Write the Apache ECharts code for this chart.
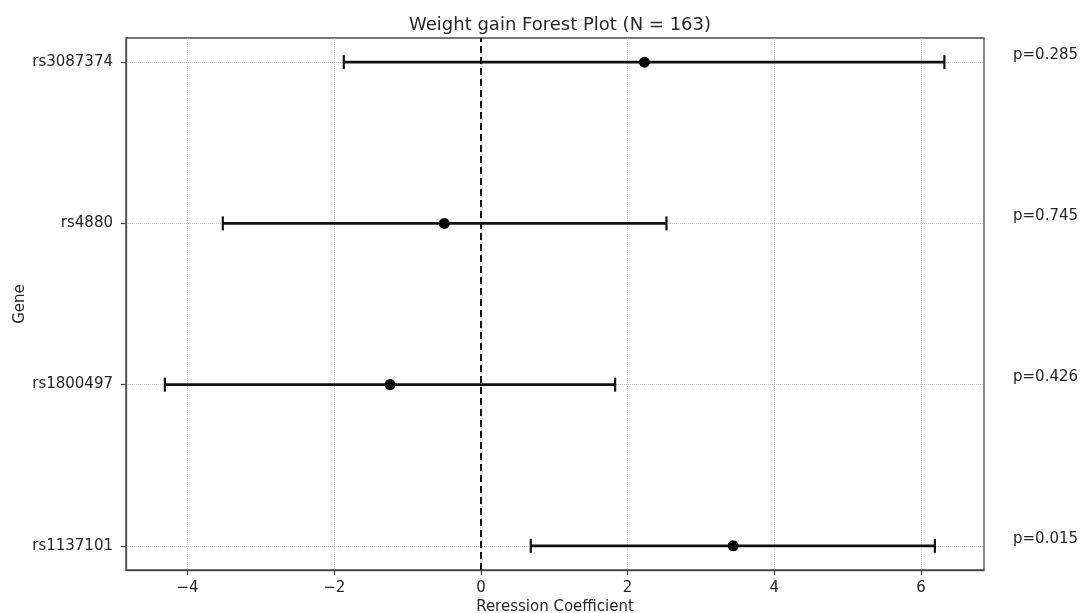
<!DOCTYPE html>
<html>
<head>
<meta charset="utf-8">
<script src="https://cdn.jsdelivr.net/npm/echarts@6/dist/echarts.min.js"></script>
<style>
  html, body { margin: 0; padding: 0; background: #fff; }
  #chart { width: 1081px; height: 613px; }
</style>
</head>
<body>
<div id="chart"></div>
<script>
// genes listed bottom -> top (y index 0..3)
const genes = ['rs1137101', 'rs1800497', 'rs4880', 'rs3087374'];
const coef = [3.44, -1.24, -0.50, 2.23];
const ciLow = [0.68, -4.31, -3.52, -1.87];
const ciHigh = [6.19, 1.83, 2.53, 6.32];
const pLabels = ['p=0.015', 'p=0.426', 'p=0.745', 'p=0.285'];
const xTicks = [-4, -2, 0, 2, 4, 6];

const textColor = '#262626';
const font = 'DejaVu Sans';

const chart = echarts.init(document.getElementById('chart'));

const barData = genes.map(function (g, i) {
    return [ciLow[i], ciHigh[i], i, pLabels[i]];
});
const pointData = genes.map(function (g, i) {
    return [coef[i], i];
});

const option = {
    animation: false,
    textStyle: { fontFamily: font },
    title: {
        text: 'Weight gain Forest Plot (N = 163)',
        left: 555,
        textAlign: 'center',
        top: 11,
        textStyle: { fontFamily: font, fontSize: 18, fontWeight: 'normal', color: textColor }
    },
    grid: {
        left: 126, right: 97, top: 38, bottom: 43,
        outerBoundsMode: 'none',
        containLabel: false,
        show: true, borderColor: '#4a4a4a', borderWidth: 1.3, backgroundColor: 'transparent'
    },
    xAxis: {
        type: 'value',
        min: -4.84, max: 6.86,
        name: 'Reression Coefficient',
        nameLocation: 'middle',
        nameGap: 30,
        nameMoveOverlap: false,
        nameTextStyle: { fontFamily: font, fontSize: 15, color: textColor },
        axisLine: { show: true, onZero: false, lineStyle: { color: '#4a4a4a', width: 1.3 } },
        axisTick: { show: true, inside: false, customValues: xTicks, length: 5, lineStyle: { color: '#4a4a4a', width: 1.2 } },
        axisLabel: {
            customValues: xTicks, margin: 11,
            fontFamily: font, fontSize: 15, color: textColor,
            formatter: function (v) { return v < 0 ? '\u2212' + Math.abs(v) : String(v); }
        },
        splitLine: { show: true, lineStyle: { color: '#c8c8c8', type: 'dotted', width: 1 } }
    },
    yAxis: {
        type: 'value',
        min: -0.15, max: 3.15,
        splitNumber: 3,
        name: 'Gene',
        nameLocation: 'middle',
        nameGap: 98,
        nameRotate: 90,
        nameMoveOverlap: false,
        nameTextStyle: { fontFamily: font, fontSize: 15, color: textColor },
        axisLine: { show: true, onZero: false, lineStyle: { color: '#4a4a4a', width: 1.3 } },
        axisTick: { show: true, inside: false, customValues: [0, 1, 2, 3], length: 5, lineStyle: { color: '#4a4a4a', width: 1.2 } },
        axisLabel: {
            customValues: [0, 1, 2, 3], margin: 13,
            fontFamily: font, fontSize: 15, color: textColor,
            formatter: function (v) { return genes[Math.round(v)] || ''; }
        },
        splitLine: { show: true, lineStyle: { color: '#c8c8c8', type: 'dotted', width: 1 } }
    },
    series: [
        {
            type: 'custom',
            clip: false,
            data: barData,
            renderItem: function (params, api) {
                const y = api.value(2);
                const p0 = api.coord([api.value(0), y]);
                const p1 = api.coord([api.value(1), y]);
                const right = api.coord([6.86, y]);
                const cap = 7;
                const style = { stroke: '#111', lineWidth: 2.8 };
                return {
                    type: 'group',
                    children: [
                        { type: 'line', shape: { x1: p0[0], y1: p0[1], x2: p1[0], y2: p1[1] }, style: style },
                        { type: 'line', shape: { x1: p0[0], y1: p0[1] - cap, x2: p0[0], y2: p0[1] + cap }, style: { stroke: '#111', lineWidth: 2.2 } },
                        { type: 'line', shape: { x1: p1[0], y1: p1[1] - cap, x2: p1[0], y2: p1[1] + cap }, style: { stroke: '#111', lineWidth: 2.2 } },
                        {
                            type: 'text',
                            x: right[0] + 29, y: right[1] - 7,
                            style: {
                                text: api.value(3), fill: textColor,
                                font: '15px "DejaVu Sans"', align: 'left', verticalAlign: 'middle'
                            }
                        }
                    ]
                };
            },
            markLine: {
                silent: true,
                symbol: 'none',
                label: { show: false },
                lineStyle: { color: '#111', type: [7, 4], width: 2, opacity: 1 },
                data: [{ xAxis: 0 }]
            },
            z: 3
        },
        {
            type: 'scatter',
            data: pointData,
            symbol: 'circle',
            symbolSize: 11,
            itemStyle: { color: '#000', opacity: 1 },
            z: 4
        }
    ]
};

chart.setOption(option);
</script>
</body>
</html>
